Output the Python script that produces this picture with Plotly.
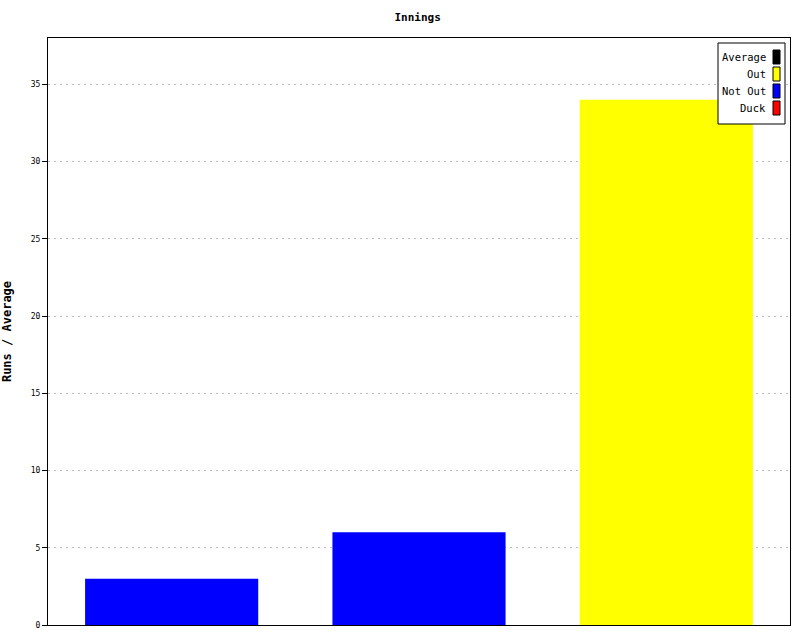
import plotly.graph_objects as go

innings = ["1", "2", "3"]
runs = [3, 6, 34]
status = ["Not Out", "Not Out", "Out"]

legend_labels = ["Average", "Out", "Not Out", "Duck"]
legend_colors = ["#000000", "#ffff00", "#0000ff", "#ff0000"]
color_map = dict(zip(legend_labels, legend_colors))

FONT = "DejaVu Sans Mono"

fig = go.Figure()
fig.add_trace(go.Bar(
    x=innings, y=runs,
    marker=dict(color=[color_map[s] for s in status], line=dict(width=0)),
    width=0.7, showlegend=False,
))

fig.update_layout(
    width=800, height=640,
    margin=dict(l=48, r=10, t=38, b=15),
    paper_bgcolor="white", plot_bgcolor="white",
    title=dict(text="<b>Innings</b>", x=0.522, xanchor="center", y=0.979, yanchor="top",
               font=dict(family=FONT, size=11, color="black")),
    font=dict(family=FONT, size=8, color="black"),
    xaxis=dict(showticklabels=False, showgrid=False, showline=True, linecolor="black",
               linewidth=1, mirror=True, ticks=""),
    yaxis=dict(range=[0, 38], dtick=5, showline=True, linecolor="black", linewidth=1,
               mirror=True, ticks="outside", ticklen=5, tickcolor="black",
               showgrid=True, gridcolor="#bbbbbb", griddash="2px,4px", gridwidth=1,
               zeroline=False, automargin=False,
               tickfont=dict(family=FONT, size=8),
               title=dict(text="<b>Runs / Average</b>", standoff=18,
                          font=dict(family=FONT, size=12))),
)

# custom legend box (text left of colour swatch)
x0, x1 = 718, 785
y0, y1 = 43, 124
def px(x):
    return (x - 48) / (790 - 48)
def py(y):
    return (625 - y) / (625 - 38)

fig.add_shape(type="rect", xref="paper", yref="paper",
              x0=px(x0), x1=px(x1), y0=py(y1), y1=py(y0),
              line=dict(color="black", width=1), fillcolor="white")
for i, (lab, col) in enumerate(zip(legend_labels, legend_colors)):
    yc = 57 + i * 17
    fig.add_shape(type="rect", xref="paper", yref="paper",
                  x0=px(773), x1=px(780), y0=py(yc + 7), y1=py(yc - 7),
                  line=dict(color="black", width=1), fillcolor=col)
    fig.add_annotation(xref="paper", yref="paper", x=px(768), y=py(yc),
                       text=lab, showarrow=False, xanchor="right", yanchor="middle",
                       font=dict(family=FONT, size=10.5, color="black"))

fig.write_html("out.html", config={"displayModeBar": False},
               post_script="document.body.style.margin='0';")
